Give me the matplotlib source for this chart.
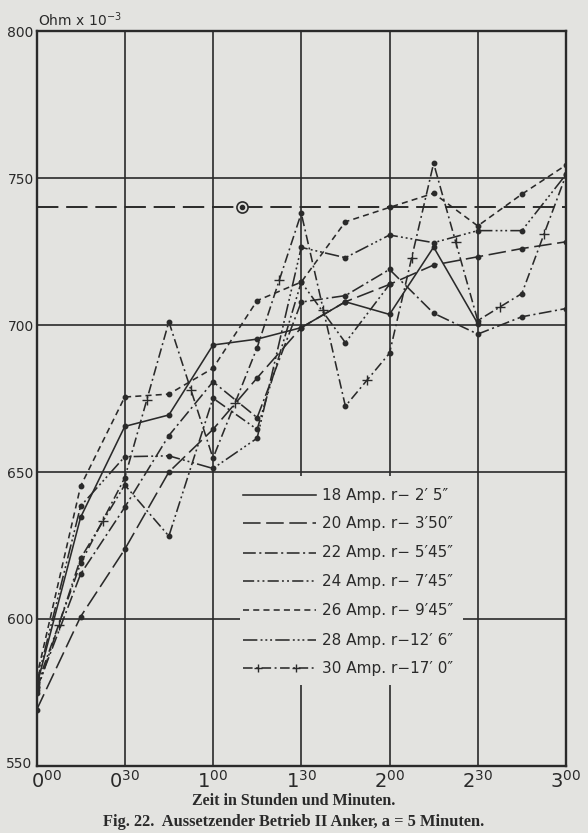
import numpy as np
import matplotlib
matplotlib.use("Agg")
import matplotlib.pyplot as plt
from matplotlib.patches import Rectangle
from matplotlib.transforms import ScaledTranslation

# ---- data (minutes, Ohm x 10^-3) ----
minutes = [0, 15, 30, 45, 60, 75, 90, 105, 120, 135, 150, 165, 180]
nan = np.nan
s18 = [577, 634.6, 665.5, 669.4, 693.2, 695.2, 699.1, 707.9, 703.6, 726.5, 700.5, nan, nan]
s20 = [569, 600.8, 623.7, 650.0, 664.5, 682.0, 699.1, 707.9, 713.8, 720.4, 723.2, 726.0, 728.3]
s22 = [576, 615.3, 638.0, 662.4, 680.7, 668.5, 707.8, 710.0, 718.9, 704.0, 696.9, 702.8, 705.6]
s24 = [575, 620.6, 645.6, 628.2, 675.1, 664.5, 714.6, 694.0, 713.8, nan, nan, nan, nan]
s26 = [580, 645.2, 675.5, 676.5, 685.3, 708.3, 714.6, 735.1, 740.0, 744.8, 733.7, 744.5, 754.4]
s28 = [578, 638.4, 655.2, 655.5, 651.2, 661.5, 726.4, 722.9, 730.6, 728.0, 732.1, 732.1, 751.2]
s30 = [577, 618.9, 648.0, 701.1, 654.7, 692.3, 738.0, 672.4, 690.4, 755.0, 701.5, 710.7, 751.0]
ref_value = 740
ref_marker_minute = 70

labels = ['18 Amp. r\u2212 2\u2032 5\u2033', '20 Amp. r\u2212 3\u203250\u2033',
          '22 Amp. r\u2212 5\u203245\u2033', '24 Amp. r\u2212 7\u203245\u2033',
          '26 Amp. r\u2212 9\u203245\u2033', '28 Amp. r\u221212\u2032 6\u2033',
          '30 Amp. r\u221217\u2032 0\u2033']
xtick_minutes = [0, 30, 60, 90, 120, 150, 180]
xtick_labels = [r'$\mathregular{0^{00}}$', r'$\mathregular{0^{30}}$', r'$\mathregular{1^{00}}$',
                r'$\mathregular{1^{30}}$', r'$\mathregular{2^{00}}$', r'$\mathregular{2^{30}}$',
                r'$\mathregular{3^{00}}$']
yticks = [550, 600, 650, 700, 750, 800]

paper = '#e3e3e0'
ink = '#2a2a2a'

styles = [
    dict(linestyle='-'),
    dict(dashes=(11, 3.5)),
    dict(dashes=(8, 2.2, 1.3, 2.2)),
    dict(dashes=(7, 2, 1.2, 2, 1.2, 2)),
    dict(dashes=(3.8, 2.6)),
    dict(dashes=(9, 2, 1.2, 1.8, 1.2, 1.8, 1.2, 2)),
    dict(dashes=(6, 2.2, 1.2, 2.2)),
]
series = [s18, s20, s22, s24, s26, s28, s30]

fig = plt.figure(figsize=(5.88, 8.33), dpi=100)
fig.patch.set_facecolor(paper)
ax = fig.add_axes([36.5/588, 1-766/833, (566-36.5)/588, (766-31)/833])
ax.set_facecolor(paper)
ax.set_xlim(0, 180)
ax.set_ylim(550, 800)

for xv in xtick_minutes[1:-1]:
    ax.axvline(xv, color=ink, lw=1.2, zorder=1)
for yv in yticks[1:-1]:
    ax.axhline(yv, color=ink, lw=1.2, zorder=1)
for sp in ax.spines.values():
    sp.set_color(ink)
    sp.set_linewidth(1.7)

ax.set_xticks(xtick_minutes)
ax.set_xticklabels(xtick_labels, fontsize=14, color=ink)
ax.set_yticks(yticks)
ax.set_yticklabels([str(v) for v in yticks], fontsize=10, color=ink,
                   family='Liberation Sans Narrow')
ax.tick_params(length=0)
ax.tick_params(axis='x', pad=3)
ax.tick_params(axis='y', pad=2)
xl = ax.get_xticklabels()
xl[0].set_transform(xl[0].get_transform() + ScaledTranslation(10/100, 0, fig.dpi_scale_trans))
yl = ax.get_yticklabels()
yl[0].set_transform(yl[0].get_transform() + ScaledTranslation(-2/100, 4/100, fig.dpi_scale_trans))

# reference line
ax.axhline(ref_value, color=ink, lw=1.4, dashes=(11, 4), zorder=2)
ax.plot([ref_marker_minute], [ref_value], 'o', ms=8, mfc=paper, mec=ink, mew=1.2, zorder=3)
ax.plot([ref_marker_minute], [ref_value], 'o', ms=3, color=ink, zorder=4)

x = np.array(minutes, dtype=float)
for s, st in zip(series, styles):
    y = np.array(s, dtype=float)
    ax.plot(x, y, color=ink, lw=1.15, marker='o', ms=3.2, zorder=3, **st)
# plus marks on 30 A series at segment midpoints
y30 = np.array(s30, dtype=float)
mx = (x[:-1] + x[1:]) / 2
my = (y30[:-1] + y30[1:]) / 2
ax.plot(mx, my, '+', color=ink, ms=7, mew=1.0, zorder=4)

# legend (manual)
ax.add_patch(Rectangle((0.385, 0.11), 0.42, 0.285, transform=ax.transAxes,
                       facecolor=paper, edgecolor='none', zorder=2.5))
row_y = [495, 523, 553, 581, 610, 640, 668]
for i, (ry, st, lab) in enumerate(zip(row_y, styles, labels)):
    ya = 1 - (ry - 31) / (766 - 31)
    ax.plot([(243-36.5)/529.5, (316-36.5)/529.5], [ya, ya], transform=ax.transAxes,
            color=ink, lw=1.15, zorder=5, **st)
    if i == 6:
        ax.plot([(258-36.5)/529.5, (296-36.5)/529.5], [ya, ya], '+', transform=ax.transAxes,
                color=ink, ms=6, mew=1.0, zorder=6)
    ax.text((322-36.5)/529.5, ya, lab, transform=ax.transAxes, fontsize=11,
            va='center', ha='left', color=ink, zorder=6)

fig.text(38/588, 1-20/833, r'Ohm x 10$^{-3}$', fontsize=10, color=ink, va='center')

fig.text(0.5, 1-801/833, 'Zeit in Stunden und Minuten.', fontsize=11.5, family='Liberation Serif',
         weight='bold', ha='center', va='center', color=ink)
fig.text(0.5, 1-822/833, 'Fig. 22.  Aussetzender Betrieb II Anker, a = 5 Minuten.', fontsize=11.8,
         family='Liberation Serif', weight='bold', ha='center', va='center', color=ink)

fig.savefig('out.png', dpi=100, facecolor=paper)
